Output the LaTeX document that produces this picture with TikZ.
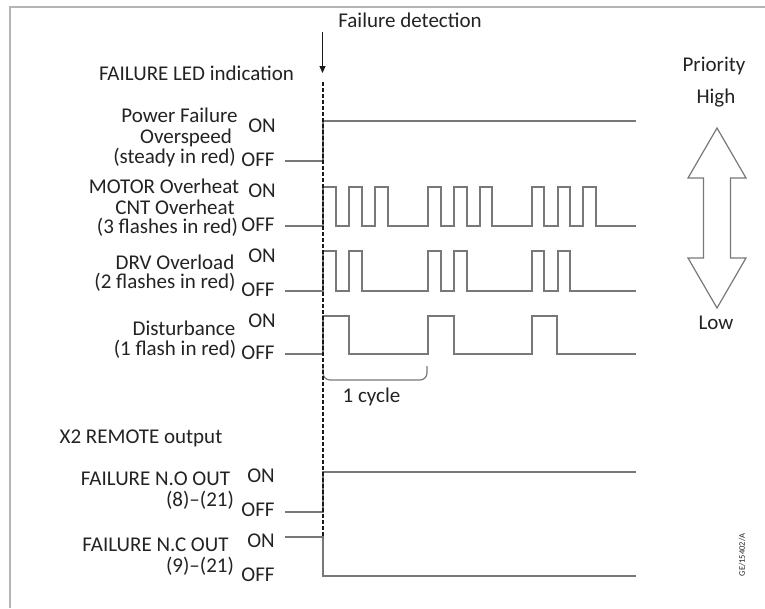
\documentclass[tikz,border=0pt]{standalone}
\usepackage{fontspec}
\setmainfont{Carlito}
\usetikzlibrary{arrows.meta}
\definecolor{txt}{RGB}{35,35,35}
\definecolor{sig}{RGB}{120,120,120}
\definecolor{frame}{RGB}{180,180,180}
\begin{document}
\begin{tikzpicture}[x=1pt,y=-1pt,
  lbl/.style={inner sep=0pt,text=txt,text height=12pt,text depth=2pt,font=\fontsize{21}{24}\selectfont},
  small/.style={inner sep=0pt,text=txt,font=\fontsize{8.5}{10}\selectfont},
  wave/.style={draw=sig,line width=1.3pt},
  mark line/.style={draw=black!90,line width=2pt,dash pattern=on 4pt off 2pt}]
\useasboundingbox (0,0) rectangle (765,608);
\fill[white] (0,0) rectangle (765,608);
% frame
\draw[frame,line width=1.6pt] (765,7) -- (10,7) -- (10,608);

% headings
\node[lbl] (fd) at (410,22) {Failure detection};
\node[lbl] (led) at (196.5,75) {FAILURE LED indication};
\coordinate (arrS) at (322.5,32);
\coordinate (arrE) at (322.5,73);
\draw[black!90,line width=1pt,-{Triangle[length=7pt,width=6pt]}] (arrS) -- (arrE);

% row 1
\node[lbl] (r1a) at (179.5,117) {Power Failure};
\node[lbl] (r1b) at (186,138) {Overspeed};
\node[lbl] (r1c) at (174.5,158) {(steady in red)};
\node[lbl] (r1on) at (262,127) {ON};
\node[lbl] (r1off) at (258,161) {OFF};
\draw[wave] (285,161) -| (323,121) -- (636,121);

% row 2
\node[lbl] (r2a) at (164,188) {MOTOR Overheat};
\node[lbl] (r2b) at (175,209) {CNT Overheat};
\node[lbl] (r2c) at (167.5,228) {(3 flashes in red)};
\node[lbl] (r2on) at (262,192) {ON};
\node[lbl] (r2off) at (258,226) {OFF};
\draw[wave] (285,226) -| (323,187) -| (336,226) -| (349,187) -| (362,226) -| (375,187) -| (388,226)
  -| (428,187) -| (441,226) -| (454,187) -| (467,226) -| (480,187) -| (492,226)
  -| (532,187) -| (544,226) -| (558,187) -| (570,226) -| (583,187) -| (596,226) -- (636,226);

% row 3
\node[lbl] (r3a) at (175,264) {DRV Overload};
\node[lbl] (r3b) at (165,283) {(2 flashes in red)};
\node[lbl] (r3on) at (262,257) {ON};
\node[lbl] (r3off) at (258,291) {OFF};
\draw[wave] (285,291) -| (323,251) -| (336,291) -| (349,251) -| (362,291)
  -| (428,251) -| (441,291) -| (454,251) -| (467,291)
  -| (532,251) -| (544,291) -| (558,251) -| (570,291) -- (636,291);

% row 4
\node[lbl] (r4a) at (184,330) {Disturbance};
\node[lbl] (r4b) at (175,350) {(1 flash in red)};
\node[lbl] (r4on) at (262,322) {ON};
\node[lbl] (r4off) at (258,354) {OFF};
\draw[wave] (285,354) -| (323,316) -| (349,354) -| (428,316) -| (454,354) -| (532,316) -| (557,354) -- (636,354);

% one cycle bracket
\coordinate (cA) at (323,366);
\coordinate (cM) at (375,380);
\coordinate (cB) at (427,366);
\draw[sig,line width=1.2pt,rounded corners=7pt] (cA) |- (cM) -| (cB);
\node[lbl] (cyc) at (371.5,397) {1 cycle};

% remote output
\node[lbl] (x2) at (141,438) {X2 REMOTE output};
\node[lbl] (noa) at (155.5,480) {FAILURE N.O OUT};
\node[lbl] (nob) at (200,501) {(8)–(21)};
\node[lbl] (noon) at (261,477) {ON};
\node[lbl] (nooff) at (258,511) {OFF};
\draw[wave] (285,512) -| (323,472) -- (636,472);

\node[lbl] (nca) at (155.5,546) {FAILURE N.C OUT};
\node[lbl] (ncb) at (200,567) {(9)–(21)};
\node[lbl] (ncon) at (261,542) {ON};
\node[lbl] (ncoff) at (258,576) {OFF};
\draw[wave] (285,537) -| (323,576) -- (636,576);

% failure detection marker line
\coordinate (dT) at (322.5,82);
\coordinate (dB) at (322.5,538);
\draw[mark line] (dT) -- (dB);

% priority
\node[lbl] (pri) at (714,66) {Priority};
\node[lbl] (hi) at (716,98) {High};
\node[lbl] (lo) at (716,324) {Low};
\draw[sig,line width=1.2pt,fill=white,line join=miter]
  (717,128) -- (746,178) -- (730.5,178) -- (730.5,258) -- (746,258) -- (717,308)
  -- (688,258) -- (703.5,258) -- (703.5,178) -- (688,178) -- cycle;

\node[small,rotate=90] (ge) at (742,555) {GE/15402/A};
\end{tikzpicture}
\end{document}
